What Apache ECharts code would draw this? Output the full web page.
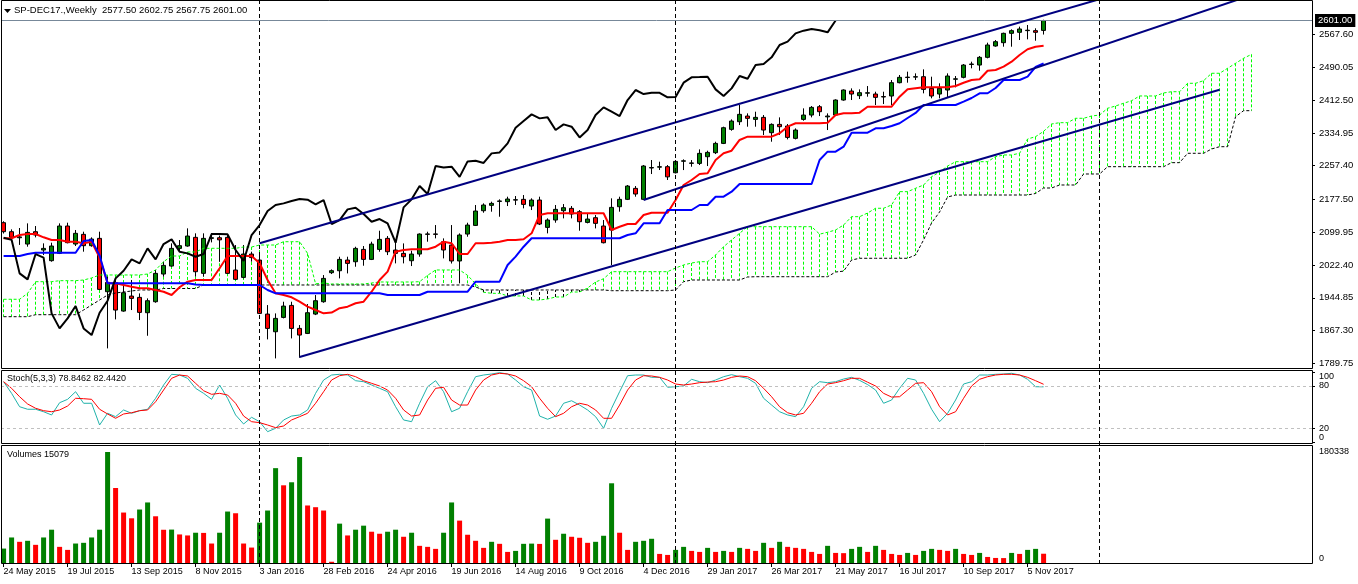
<!DOCTYPE html>
<html>
<head>
<meta charset="utf-8">
<script src="https://cdn.jsdelivr.net/npm/echarts@6.0.0/dist/echarts.min.js"></script>
<style>
html,body{margin:0;padding:0;background:#fff;overflow:hidden;}
#chart{width:1358px;height:584px;}
</style>
</head>
<body>
<div id="chart"></div>
<script>
// ---------------- data ----------------
const symbolName = 'SP-DEC17.,Weekly';
const dateTicks = ['24 May 2015','19 Jul 2015','13 Sep 2015','8 Nov 2015','3 Jan 2016','28 Feb 2016','24 Apr 2016','19 Jun 2016','14 Aug 2016','9 Oct 2016','4 Dec 2016','29 Jan 2017','26 Mar 2017','21 May 2017','16 Jul 2017','10 Sep 2017','5 Nov 2017'];
const dateTickIdx = [0,8,16,24,32,40,48,56,64,72,80,88,96,104,112,120,128];
const priceTicks = [1789.75,1867.30,1944.85,2022.40,2099.95,2177.50,2257.40,2334.95,2412.50,2490.05,2567.60];
const stochTicks = [0,20,80,100];
const stochLevels = [20,80];
const separators = [32,84,137];

const opens = [2122.6,2101.3,2087,2072.1,2101.3,2057.9,2032.7,2050.0,2114.7,2072.1,
 2095.0,2068.2,2085.5,1959.3,1980.6,1913.5,1949.0,1945.9,1909.6,1935.6,
 2001.1,2020.0,2061.8,2067.4,2087.9,2002.7,2085.5,2087,2087.9,2010.6,
 1993.2,2048.4,2034.2,1906.4,1864.6,1898.5,1926.9,1872.5,1860.6,1906.4,
 1935.6,2004.3,2008.9,2034.2,2030.2,2059.4,2035.8,2059.4,2085.5,2057.9,
 2050.0,2032.6,2048.4,2095,2096,2077.6,2069.7,2032,2095.7,2116.2,
 2150.9,2163.6,2173,2172.3,2176,2177.8,2162.0,2176.2,2111.5,2128.9,
 2150.9,2156.5,2148.6,2123.3,2134.4,2114.7,2105.2,2160.4,2177.8,2203.8,
 2177.8,2252,2254,2255.1,2240.8,2268,2263,2262.9,2278.7,2288.2,
 2310.2,2343.4,2361.5,2374.9,2367.0,2371.8,2335.5,2355.2,2351.3,2322.1,
 2367.0,2377.3,2397.0,2373,2377.3,2412.8,2434.1,2423.1,2429,2427.0,
 2421,2422.3,2453.8,2466,2467,2468.0,2440.4,2427.0,2436.5,2462,
 2466.5,2497,2495.6,2513.8,2540.6,2548.5,2570.6,2573.0,2577,2576.9,
 2577.5];
const highs = [2126,2106.8,2110,2121.0,2114.7,2073.7,2075.3,2121.0,2122.6,2105.3,
 2101.3,2087.9,2101.3,1994.8,1986.9,1979.0,1986.9,1955.3,1943.5,2010.6,
 2030.3,2073.7,2081.6,2109.2,2097.4,2097.4,2098,2092,2093.4,2069.7,
 2069.7,2054.0,2046.1,1927.7,1908.0,1935.6,1935.6,1880.4,1930.1,1951.4,
 1998.7,2012.1,2042.1,2042.1,2065.7,2067.3,2077.6,2103.6,2091.0,2077.6,
 2073.6,2056.3,2097.3,2101.2,2117.0,2085.5,2117.0,2097.3,2122.5,2164.4,
 2168.3,2172.3,2177.8,2184.1,2185.7,2188.0,2180.2,2184.1,2132.8,2164.4,
 2166.7,2162.0,2152.5,2144.6,2140.7,2128.9,2180.2,2184.1,2211.7,2209.3,
 2259.0,2270.9,2266.9,2259.0,2270.8,2272.4,2270.8,2296.0,2292.9,2314.2,
 2349.7,2367.0,2401.0,2381.2,2385.2,2377.3,2357.6,2371.8,2356.0,2345.7,
 2393.1,2398.6,2401.0,2381.2,2414.4,2438.0,2440.4,2438.0,2445.9,2432.5,
 2432.5,2460.1,2472.0,2479.9,2475.9,2485.4,2468.0,2452.3,2475.9,2469.6,
 2498.0,2503.5,2517.0,2548.5,2554.8,2572.2,2580.1,2586.4,2590.3,2582.5,
 2602.75];
const lows = [2097,2077.6,2070,2065.8,2087.9,2046.1,2030.3,2048.4,2073.7,2067.4,
 2054.0,2065.8,1963.2,1825.2,1893.8,1911.9,1915.9,1892.2,1855.1,1933.2,
 1994.8,2018.5,2054.0,2065.8,1994.8,1994.8,2076,2030,2001.1,1986.9,
 1990.8,2030.3,1906.4,1846.5,1801.5,1896.2,1848.8,1803,1859.1,1904.0,
 1933.2,2001.1,1990.8,2002.6,2018.4,2020.8,2034.2,2053.9,2046.0,2026.3,
 2026.3,2020.0,2042.1,2077.6,2085.5,2038.1,2026,1979,2089.4,2114.7,
 2146.2,2148.6,2136.7,2162.0,2164.4,2156.5,2152.5,2117.0,2097.3,2122.5,
 2132.8,2132.8,2103.6,2121.0,2109.1,2073.6,2022.3,2148.6,2176.2,2184.1,
 2176.2,2237.7,2247.2,2223.6,2239.2,2247.1,2255.0,2259.0,2256.6,2285.0,
 2308.6,2340.2,2353.6,2349.7,2349.7,2330.0,2314.2,2330.0,2319.7,2319.7,
 2363.9,2371.8,2374.9,2341.8,2377.3,2411.2,2412.8,2415.2,2420.7,2401.0,
 2403.3,2401.0,2452.3,2453.8,2460.1,2428.6,2416.8,2416.8,2419.1,2442.8,
 2464.1,2487.8,2482.2,2511.4,2539.0,2539.0,2539.0,2554.8,2556.4,2553.2,
 2567.75];
const closes = [2101.3,2087.9,2089,2099.7,2093.4,2061.8,2067.4,2114.7,2075.3,2097.4,
 2068.2,2083.9,1964.8,1981.4,1915.9,1956.9,1943.5,1910.4,1938.0,2002.7,
 2021.6,2061.8,2068.2,2091.0,2006.6,2085.5,2087,2082,2002.7,1988.5,
 2048.4,2040,1908.0,1872.5,1896.2,1925.3,1872.5,1856.7,1909.6,1938.0,
 1990.8,2009.0,2035.8,2026.3,2061.8,2035.8,2072.0,2083.1,2053.9,2050.0,
 2042.1,2048.4,2095.7,2096,2095,2058,2032,2093.4,2117.0,2150.2,
 2164.4,2168.3,2174,2178.6,2177,2165.9,2176.2,2119.4,2128.9,2154.1,
 2158.1,2143.1,2124.9,2131.2,2121.0,2075.2,2158.8,2177.8,2209.3,2190.4,
 2256.7,2253,2255,2231,2267.6,2269,2264,2286.6,2288.9,2310.2,
 2347.3,2363.1,2378.9,2369.4,2371.8,2341.8,2355.2,2349.7,2324.4,2341.8,
 2377.3,2395.4,2385.2,2375,2412.8,2436.5,2427.0,2430.2,2430,2419.1,
 2420,2453.8,2466.5,2467,2468,2438.0,2422.3,2440.4,2469.6,2463,
 2495.6,2498,2513.8,2543.0,2550.9,2570.6,2576.9,2580.9,2578,2573.0,
 2601.0];
const volumes = [23440,41480,34430,36070,29510,41480,54100,26230,21310,31640,
 32790,41480,54100,180338,121810,81970,72630,86890,98360,75910,
 54000,54300,46400,44760,49180,48900,31640,49180,83610,80820,
 31640,25080,65580,85250,154100,126230,131150,172140,93450,90660,
 85250,2000,63940,44760,54100,60660,50820,47540,50820,54100,
 42620,49180,27870,26230,22950,49180,98360,68850,45900,36070,
 24590,34430,31150,18030,19670,31150,31500,31000,72130,37710,
 47540,42620,40990,32790,34430,44260,129510,49180,21310,34430,
 36070,39350,14750,13120,21310,26230,19670,18030,24590,18030,
 19670,18030,24590,22950,19670,32790,24590,34430,26230,24590,
 22950,18030,14750,27870,16390,16000,22950,26230,18030,27870,
 21310,14750,13120,16390,13120,19670,22950,21310,19670,22950,
 14750,13120,16390,9840,8200,8000,16390,14750,21310,22950,
 15079];
const stochK = [86.1,69.6,50.6,47,47,43.5,38.9,56.3,61.1,71.9,
 55.5,55.5,24.7,41.3,36.5,46,41.3,45,47,62.6,
 81.4,96.6,95.6,90.9,76.7,69.6,61.1,81.4,62.6,38.9,
 26.1,35.6,29.4,15.2,20,31.8,37.4,38.9,46,69.6,
 88.5,95.6,96.6,95.6,87.5,86.1,81.4,76.7,71.9,50.6,
 31.8,29.4,55.5,79,87.5,71.9,43.5,48.4,71.9,93.2,
 95.6,97,98.9,97,88.5,79,74.3,37.4,32.8,37.4,
 55.5,59.1,53,46,36.5,20,48.4,71.9,94.6,95.6,
 95.6,92.3,92.3,78.2,79,80,89.5,86.1,84.7,88.5,
 93.2,96.1,93.2,90.9,83.8,62.6,53,43.5,38.9,36.5,
 50.6,76.7,86.1,84.7,86.1,89.9,92.3,88,82,74.3,
 55.5,60.1,76.7,90.9,88.5,69.6,47,29.4,41.3,60.1,
 82.8,86.1,95.6,95.6,96.6,97,98,95.6,89.5,79,
 78.8462];
const stochD = [86.1,76.7,64.8,54.5,48.4,45,43.5,46,51.6,62.6,
 62,61.1,47,40.3,34.2,40.3,42.1,45,46,57.7,
 74.3,90.9,95.6,94.2,83.8,73.3,68.2,69.6,67.2,55.5,
 37.4,29.4,28,24.7,20.9,23.3,31.8,36.5,41.3,55.5,
 71.9,88.5,94.6,96.6,93.2,87.5,83.8,80,74.3,62.6,
 46,37.4,38.9,60.1,76.7,78.2,60.1,53,53,74.3,
 88.5,95.6,98,97,94.2,87.5,79,62.6,48.4,36.5,
 41.3,50.6,55.5,53,46,34.2,34.2,53,74.3,88.5,
 94.6,94.2,92.3,88.5,82.8,81.4,82.8,84.7,85.6,86.1,
 88.5,92.3,94.2,93.2,87.5,76.7,64.8,50.6,42.1,38.9,
 41.3,55.5,71.9,82.8,84.7,87.5,90.9,90.9,85.4,80,
 69.6,64.3,64.8,74.3,83.8,84.7,71.9,50.6,38.9,43.5,
 62.6,80,89.5,93.2,95.6,96.6,96.6,95.6,92.3,87.5,
 82.4420];
const tenkan = [2085.7,2085.7,2093.5,2095.9,2095.9,2088.0,2081.7,2081.7,2077.6,2077.6,
 2073.9,2077.6,2040,1979.2,1979.2,1975.2,1971.2,1967.4,1967.4,1963.4,
 1959.3,1951.5,1969.8,1983.0,1987.0,1987.0,1987.0,2014.7,2043.8,2043.8,
 2043.8,2043.8,2026.5,1987.0,1955.5,1951.5,1946.1,1935.7,1923.9,1916.0,
 1908.2,1910,1920.2,1923.9,1931.9,1935.7,1959.3,1987.0,2006.7,2054.0,
 2058.0,2059.6,2059.6,2059.6,2065.8,2077.6,2073.9,2048.5,2048.5,2073.9,
 2073.9,2075.3,2077.6,2081.7,2081.7,2083.3,2097.5,2140.8,2144.8,2144.8,
 2144.8,2144.8,2144.8,2144.8,2144.8,2144.8,2105.3,2113.1,2119.5,2119.5,
 2140.8,2146.3,2146.3,2146.3,2176.3,2211.8,2223.6,2237.8,2239.5,2271.0,
 2286.8,2292.9,2318.3,2326.1,2326.1,2326.1,2326.1,2334.1,2349.7,2357.8,
 2357.8,2357.8,2357.8,2359.2,2377.4,2381.4,2381.4,2382.9,2397.0,2397.0,
 2397.0,2397.0,2420.7,2438.2,2440.6,2442.9,2442.9,2442.9,2442.9,2446.0,
 2453.8,2460.2,2461.9,2482.2,2483.9,2491.7,2503.5,2519.4,2532.9,2539.0,
 2541.4];
const kijun = [2043.8,2043.8,2043.8,2048.5,2051.6,2051.6,2051.6,2051.6,2051.6,2051.6,
 2079.3,2081.7,2045,1979.2,1979.2,1979.2,1979.2,1979.2,1979.2,1979.2,
 1979.2,1979.2,1979.2,1979.2,1976.4,1975.2,1975.2,1975.2,1975.2,1975.2,
 1975.2,1975.2,1975.2,1963.4,1955.5,1955.5,1955.5,1955.5,1955.5,1955.5,
 1955.5,1955.5,1955.5,1955.5,1955.5,1955.5,1955.5,1955.5,1951.5,1951.5,
 1951.5,1951.5,1951.5,1959.3,1959.3,1959.3,1959.3,1959.3,1959.3,1983.0,
 1983.0,1983.0,1983.0,2022.5,2042.2,2065.8,2085.7,2085.7,2085.7,2085.7,
 2085.7,2085.7,2085.7,2085.7,2085.7,2085.7,2085.7,2085.7,2093.5,2097.5,
 2121.2,2121.2,2121.2,2152.6,2152.6,2152.6,2152.6,2164.5,2164.5,2184.1,
 2184.1,2196.0,2214.2,2214.2,2214.2,2214.2,2214.2,2214.2,2214.2,2214.2,
 2214.2,2214.2,2271.0,2290.6,2290.6,2302.4,2335.5,2335.5,2335.5,2345.9,
 2345.9,2351.4,2357.8,2370.3,2382.2,2401.1,2401.1,2401.1,2401.1,2401.1,
 2408.9,2417.6,2428.8,2428.8,2441.3,2460.2,2460.2,2460.2,2468.0,2491.0,
 2499.7];
const spanA = [1941.4,1941.4,1941.4,1955.5,1983.0,1983.0,1983.0,1985.4,1985.4,1985.4,
 1987.0,1991.8,1998.9,1998.9,1998.9,1998.9,1998.9,1998.9,2001.2,2010.7,
 2030.3,2043.8,2043.8,2053.3,2053.3,2062.0,2062.0,2062.0,2062.0,2062.0,
 2065.1,2065.1,2069.8,2069.8,2069.8,2077.6,2077.6,2077.6,2050,1978,
 1980,1977.6,1977.6,1977.6,1977.6,1977.6,1979.9,1982.3,1982.3,1982.3,
 1982.3,1982.3,1983,1998,2010.7,2010.7,2010.7,2010.7,1998,1978,
 1958,1955.5,1955.5,1949.2,1949.2,1949.2,1939.7,1939.7,1942.1,1946.8,
 1946.8,1958.6,1958.6,1968.1,1982.3,1990,2006.7,2006.7,2006.7,2006.7,
 2006.7,2006.7,2006.7,2006.7,2015.4,2022.5,2027.2,2030.3,2030.3,2046.2,
 2065.8,2081.7,2097.5,2113.1,2113.1,2113.1,2113.1,2113.1,2113.1,2113.1,
 2113.1,2113.1,2095.5,2100,2105.3,2117.2,2136.8,2136.8,2145.5,2156.7,
 2156.7,2164.5,2196.0,2196.0,2204.0,2211.8,2231.4,2242.5,2256.7,2266.9,
 2266.9,2266.9,2266.9,2266.9,2278.8,2282.8,2282.8,2286.8,2320.6,2326.1,
 2338.8,2356.1,2359.2,2359.2,2369.6,2369.6,2375.0,2377.4,2393.3,2398.7,
 2405.1,2411.2,2422.4,2422.4,2422.4,2429.5,2432.5,2432.5,2452.4,2452.4,
 2458.6,2476.1,2476.1,2487.9,2499.7,2511.6,2521.0];
const spanB = [1900.2,1900.2,1900.2,1900.2,1904.9,1904.9,1904.9,1904.9,1904.9,1904.9,
 1916.0,1927.9,1939.7,1951.5,1956.3,1958.6,1961.0,1963.4,1963.4,1963.4,
 1966.9,1966.9,1966.9,1966.9,1966.9,1975.2,1975.2,1975.2,1975.2,1975.2,
 1975.2,1975.2,1975.2,1975.2,1975.2,1975.2,1975.2,1975.2,1975.2,1975.2,
 1975.2,1975.2,1975.2,1975.2,1975.2,1975.2,1975.2,1975.2,1975.2,1975.2,
 1975.2,1975.2,1975.2,1975.2,1975.2,1975.2,1975.2,1975.2,1975.2,1970.5,
 1963.4,1963.4,1963.4,1963.4,1963.4,1963.4,1963.4,1963.4,1963.4,1963.4,
 1963.4,1963.4,1963.4,1963.4,1963.4,1963.4,1961.7,1961.7,1961.7,1961.7,
 1961.7,1961.7,1961.7,1961.7,1963.4,1983.0,1987.0,1987.0,1987.0,1987.0,
 1987.0,1987.0,1987.0,1994.1,1994.8,1994.8,1994.8,1994.8,1994.8,1994.8,
 1994.8,1994.8,1994.8,1994.8,2005.9,2008,2034.3,2038.4,2038.4,2038.4,
 2038.4,2038.4,2038.4,2038.4,2046.2,2082,2122,2148,2183.4,2188.1,
 2188.1,2188.1,2188.1,2188.1,2188.1,2188.1,2188.1,2188.1,2188.1,2191.7,
 2204.7,2204.7,2211.8,2211.8,2211.8,2237.8,2237.8,2237.8,2255.1,2255.1,
 2255.1,2255.1,2255.1,2255.1,2255.1,2255.1,2264.6,2264.6,2286.8,2286.8,
 2286.8,2297.0,2302.4,2302.4,2373.4,2387.6,2387.6];
// drawn trend objects: [bar index, price] anchor points
const channelUpper = [[32, 2073.9], [140, 2667.9]];
const channelLower = [[37, 1804.8], [152, 2437.3]];
const trendLine = [[80, 2176.3], [156, 2661.2]];

// ---------------- layout / style ----------------
const n = closes.length - 1;
const FONT = '"Liberation Sans", Arial, sans-serif';
const GREEN = '#008000', RED = '#FF0000';
const xMin = -0.325, xMax = 163.55;
const priceMin = 1778.8, priceMax = 2647.1;
const volMax = Math.max.apply(null, volumes);
const chikou = closes.slice(26).map((c, i) => [i, c]);
const pairs = arr => arr.map((v, i) => [i, v]);

const chart = echarts.init(document.getElementById('chart'), null, {renderer: 'canvas'});

const hiddenX = g => ({gridIndex: g, type: 'value', min: xMin, max: xMax, show: false, axisLine: {onZero: false}});
const titleStyle = size => ({fontSize: size, fontWeight: 'normal', color: '#000', fontFamily: FONT});
const noLine = {show: false, onZero: false};

const option = {
  animation: false,
  backgroundColor: '#ffffff',
  textStyle: {fontFamily: FONT},
  title: [
    {text: symbolName + '  ' + [opens[n], highs[n], lows[n], closes[n]].map(v => v.toFixed(2)).join(' '),
     left: 14, top: 5, padding: 0, textStyle: titleStyle(9.5)},
    {text: 'Stoch(5,3,3) ' + stochK[n].toFixed(4) + ' ' + stochD[n].toFixed(4),
     left: 7, top: 374.5, padding: 0, textStyle: titleStyle(9)},
    {text: 'Volumes ' + volumes[n], left: 7, top: 450, padding: 0, textStyle: titleStyle(9)}
  ],
  grid: [
    {left: 1, top: 1, width: 1311, height: 367, outerBoundsMode: 'none'},
    {left: 1, top: 371.9, width: 1311, height: 70.5, outerBoundsMode: 'none'},
    {left: 1, top: 452, width: 1311, height: 111, outerBoundsMode: 'none'},
    {left: 1, top: 0, width: 1311, height: 564, outerBoundsMode: 'none'}
  ],
  xAxis: [
    hiddenX(0), hiddenX(1),
    {gridIndex: 2, type: 'value', min: xMin, max: xMax, position: 'bottom',
     axisLine: noLine, splitLine: {show: false},
     axisTick: {show: true, length: 4, customValues: dateTickIdx, lineStyle: {color: '#000'}},
     axisLabel: {show: true, customValues: dateTickIdx,
       formatter: v => dateTicks[dateTickIdx.indexOf(Math.round(v))] || '',
       align: 'left', margin: 4, color: '#000', fontSize: 9, fontFamily: FONT}},
    hiddenX(3)
  ],
  yAxis: [
    {gridIndex: 0, type: 'value', position: 'right', min: priceMin, max: priceMax,
     splitLine: {show: false}, axisLine: noLine,
     axisTick: {show: true, length: 3, customValues: priceTicks, lineStyle: {color: '#000'}},
     axisLabel: {customValues: priceTicks, formatter: v => v.toFixed(2), color: '#000',
       fontSize: 9.5, margin: 7, fontFamily: FONT}},
    {gridIndex: 1, type: 'value', position: 'right', min: 0, max: 100,
     splitLine: {show: false}, axisLine: noLine,
     axisTick: {show: true, length: 3, customValues: stochTicks, lineStyle: {color: '#000'}},
     axisLabel: {customValues: stochTicks, formatter: v => String(v), color: '#000', fontSize: 9, margin: 7, fontFamily: FONT,
       verticalAlignMaxLabel: 'top', verticalAlignMinLabel: 'bottom'}},
    {gridIndex: 2, type: 'value', position: 'right', min: 0, max: volMax,
     splitLine: {show: false}, axisLine: noLine,
     axisTick: {show: false},
     axisLabel: {customValues: [0, volMax], formatter: v => String(Math.round(v)), color: '#000', fontSize: 9, margin: 7, fontFamily: FONT,
       verticalAlignMinLabel: 'bottom'}},
    {gridIndex: 3, type: 'value', min: 0, max: 1, show: false, axisLine: {onZero: false}}
  ],
  graphic: [
    {type: 'polygon', shape: {points: [[4, 9], [11, 9], [7.5, 13]]}, style: {fill: '#000'}, silent: true, z: 100},
    {type: 'rect', shape: {x: 1.5, y: 0.5, width: 1311, height: 368}, style: {fill: 'none', stroke: '#000', lineWidth: 1}, silent: true, z: 100},
    {type: 'rect', shape: {x: 1.5, y: 370.5, width: 1311, height: 73}, style: {fill: 'none', stroke: '#000', lineWidth: 1}, silent: true, z: 100},
    {type: 'rect', shape: {x: 1.5, y: 445.5, width: 1311, height: 118}, style: {fill: 'none', stroke: '#000', lineWidth: 1}, silent: true, z: 100}
  ],
  series: [
    // Kumo hatching
    {type: 'custom', name: 'kumo', xAxisIndex: 0, yAxisIndex: 0, z: 1, silent: true,
     data: spanA.map((a, i) => [i, a, spanB[i]]),
     encode: {x: 0, y: [1, 2]},
     renderItem: (params, api) => {
       const i = api.value(0), a = api.value(1), b = api.value(2);
       const p1 = api.coord([i, a]), p2 = api.coord([i, b]);
       const x = Math.floor(p1[0]) + 0.5;
       return {type: 'line', shape: {x1: x, y1: p1[1], x2: x, y2: p2[1]},
         style: {stroke: a >= b ? '#00FF00' : '#000000', lineWidth: 1, lineDash: [3, 2]}};
     }},
    // candles
    {type: 'candlestick', name: 'price', xAxisIndex: 0, yAxisIndex: 0, z: 2, barWidth: 4,
     data: opens.map((o, i) => [i, o, closes[i], lows[i], highs[i]]),
     encode: {x: 0, y: [1, 2, 3, 4]},
     itemStyle: {color: GREEN, color0: RED, borderColor: '#000', borderColor0: '#000', borderWidth: 1},
     markLine: {silent: true, symbol: ['none', 'none'], animation: false,
       lineStyle: {color: '#778899', width: 1, type: 'solid'},
       label: {show: true, position: 'end', formatter: closes[n].toFixed(2), color: '#fff',
         backgroundColor: '#000', padding: [2, 3, 1, 3], fontSize: 9.5, distance: 3, fontFamily: FONT},
       data: [{yAxis: closes[n]}]}},
    {type: 'line', name: 'spanA', xAxisIndex: 0, yAxisIndex: 0, z: 3, silent: true, symbol: 'none',
     data: pairs(spanA), lineStyle: {color: '#00FF00', width: 1, type: [3, 2]}},
    {type: 'line', name: 'spanB', xAxisIndex: 0, yAxisIndex: 0, z: 3, silent: true, symbol: 'none',
     data: pairs(spanB), lineStyle: {color: '#000000', width: 1, type: [3, 2]}},
    {type: 'line', name: 'tenkan', xAxisIndex: 0, yAxisIndex: 0, z: 4, silent: true, symbol: 'none',
     data: pairs(tenkan), lineStyle: {color: '#FF0000', width: 2}},
    {type: 'line', name: 'kijun', xAxisIndex: 0, yAxisIndex: 0, z: 4, silent: true, symbol: 'none',
     data: pairs(kijun), lineStyle: {color: '#0000FF', width: 2}},
    {type: 'line', name: 'chikou', xAxisIndex: 0, yAxisIndex: 0, z: 4, silent: true, symbol: 'none',
     data: chikou, lineStyle: {color: '#000000', width: 2}},
    {type: 'line', name: 'chUp', xAxisIndex: 0, yAxisIndex: 0, z: 5, silent: true, symbol: 'none',
     data: channelUpper, lineStyle: {color: '#000080', width: 2}},
    {type: 'line', name: 'chLow', xAxisIndex: 0, yAxisIndex: 0, z: 5, silent: true, symbol: 'none',
     data: channelLower, lineStyle: {color: '#000080', width: 2}},
    {type: 'line', name: 'trend', xAxisIndex: 0, yAxisIndex: 0, z: 5, silent: true, symbol: 'none',
     data: trendLine, lineStyle: {color: '#000080', width: 2}},
    // stochastic
    {type: 'line', name: 'stochK', xAxisIndex: 1, yAxisIndex: 1, z: 3, silent: true, symbol: 'none',
     data: pairs(stochK), lineStyle: {color: '#20B2AA', width: 1},
     markLine: {silent: true, symbol: ['none', 'none'], animation: false, label: {show: false},
       lineStyle: {color: '#C0C0C0', width: 1, type: [3, 3]},
       data: stochLevels.map(l => ({yAxis: l}))}},
    {type: 'line', name: 'stochD', xAxisIndex: 1, yAxisIndex: 1, z: 4, silent: true, symbol: 'none',
     data: pairs(stochD), lineStyle: {color: '#FF0000', width: 1}},
    // volumes
    {type: 'bar', name: 'volume', xAxisIndex: 2, yAxisIndex: 2, silent: true, barWidth: 5,
     data: volumes.map((v, i) => ({value: [i, v],
       itemStyle: {color: (i === 0 || v > volumes[i - 1]) ? GREEN : RED}}))},
    // period separators
    {type: 'custom', name: 'sep', xAxisIndex: 3, yAxisIndex: 3, z: 6, silent: true,
     data: separators.map(s => [s, 0]),
     encode: {x: 0, y: 1},
     renderItem: (params, api) => {
       const s = api.value(0);
       const a = api.coord([s, 0]), b = api.coord([s, 1]);
       const x = Math.floor(a[0]) + 0.5;
       return {type: 'line', shape: {x1: x, y1: a[1], x2: x, y2: b[1]},
         style: {stroke: '#000', lineWidth: 1, lineDash: [4, 3]}};
     }}
  ]
};
chart.setOption(option);
</script>
</body>
</html>
